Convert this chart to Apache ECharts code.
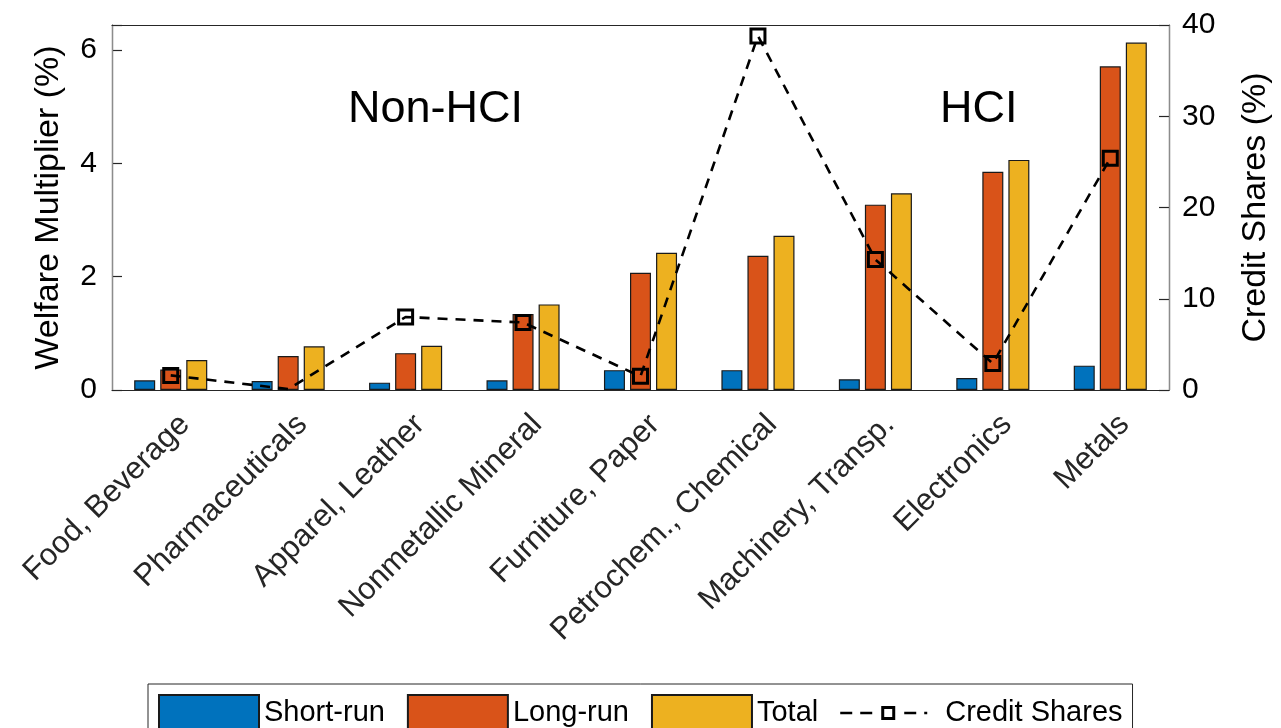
<!DOCTYPE html>
<html>
<head>
<meta charset="utf-8">
<script src="https://cdn.jsdelivr.net/npm/echarts@6/dist/echarts.min.js"></script>
<style>
  html, body { margin: 0; padding: 0; background: #fff; }
  #chart { width: 1281px; height: 728px; }
</style>
</head>
<body>
<div id="chart"></div>
<script>
  /*** data ***/
  var sectors = ['Food, Beverage', 'Pharmaceuticals', 'Apparel, Leather', 'Nonmetallic Mineral',
    'Furniture, Paper', 'Petrochem., Chemical', 'Machinery, Transp.', 'Electronics', 'Metals'];
  var shortRun = [0.17, 0.16, 0.13, 0.17, 0.35, 0.35, 0.19, 0.21, 0.43];
  var longRun = [0.36, 0.60, 0.65, 1.34, 2.07, 2.37, 3.27, 3.85, 5.71];
  var total = [0.53, 0.77, 0.78, 1.51, 2.42, 2.72, 3.47, 4.06, 6.13];
  var creditShares = [1.6, 0.1, 8.0, 7.4, 1.5, 38.8, 14.3, 2.9, 25.4];
  var leftTicks = [0, 2, 4, 6];

  var FONT = 'Liberation Sans';
  var AXIS_COLOR = '#262626';

  // legend icon for the dashed line with square marker: "- -□ - ·"
  var creditIcon = 'path://M0,0L0,0Z M100,36L100,36Z' +
    'M0,16.7h12v2.6h-12Z M20,16.7h12v2.6h-12Z' +
    'M41,11h14v14h-14Z M44,14v8h8v-8Z' +
    'M64,16.7h12v2.6h-12Z M84,16.7h3v2.6h-3Z';

  var myChart = echarts.init(document.getElementById('chart'));

  // bar series share the same style
  function barSeries(name, values, color) {
    return {
      name: name,
      type: 'bar',
      xAxisIndex: 0,
      yAxisIndex: 0,
      barWidth: 21,
      barGap: '24%',
      data: values,
      itemStyle: {
        color: color,
        borderColor: '#1a1a1a',
        borderWidth: 1.2
      }
    };
  }

  var option = {
    animation: false,
    backgroundColor: '#fff',
    textStyle: { fontFamily: FONT },
    grid: {
      left: 112,
      right: 99,
      top: 25,
      bottom: 338,
      containLabel: false
    },
    legend: {
      left: 148,
      top: 684,
      icon: 'rect',
      itemWidth: 100,
      itemHeight: 36,
      itemGap: 22,
      padding: [10, 10, 10, 10],
      borderColor: AXIS_COLOR,
      borderWidth: 1,
      backgroundColor: '#fff',
      textStyle: { fontSize: 29, color: '#000', fontFamily: FONT },
      data: ['Short-run', 'Long-run', 'Total', {
        name: 'Credit Shares',
        icon: creditIcon,
        itemStyle: { color: '#000', borderWidth: 0 }
      }]
    },
    xAxis: [{
      type: 'category',
      position: 'bottom',
      data: sectors,
      z: 10,
      axisLine: { onZero: false, lineStyle: { color: AXIS_COLOR, width: 1.2 } },
      axisTick: {
        inside: true,
        length: 10,
        alignWithLabel: true,
        lineStyle: { color: '#555', width: 1.2 }
      },
      axisLabel: {
        interval: 0,
        rotate: 45,
        margin: 44,
        padding: [0, -20, 0, 0],
        fontSize: 31,
        color: AXIS_COLOR,
        fontFamily: FONT
      },
      splitLine: {
        show: true,
        interval: function (index) { return index === 5; },
        lineStyle: { color: '#8c8c8c', width: 1.2 }
      }
    }, {
      type: 'category',
      position: 'top',
      data: sectors,
      z: 10,
      axisLine: { onZero: false, lineStyle: { color: AXIS_COLOR, width: 1.2 } },
      axisTick: {
        inside: true,
        length: 10,
        alignWithLabel: true,
        lineStyle: { color: AXIS_COLOR, width: 1.2 }
      },
      axisLabel: { show: false },
      splitLine: { show: false }
    }],
    yAxis: [{
      type: 'value',
      position: 'left',
      min: 0,
      max: 6.44,
      interval: 2,
      name: 'Welfare Multiplier (%)',
      nameLocation: 'middle',
      nameGap: 46,
      nameTextStyle: { fontSize: 34, color: '#000', fontFamily: FONT },
      axisLine: { show: true, lineStyle: { color: AXIS_COLOR, width: 1.2 } },
      axisTick: { show: true, inside: true, length: 10, lineStyle: { color: AXIS_COLOR, width: 1.2 } },
      axisLabel: {
        margin: 15,
        fontSize: 30,
        color: '#000',
        fontFamily: FONT,
        formatter: function (v) { return leftTicks.indexOf(v) >= 0 ? String(v) : ''; }
      },
      splitLine: { show: false }
    }, {
      type: 'value',
      position: 'right',
      min: 0,
      max: 40,
      interval: 10,
      name: 'Credit Shares (%)',
      nameLocation: 'middle',
      nameGap: 70,
      nameTextStyle: { fontSize: 34, color: '#000', fontFamily: FONT },
      axisLine: { show: true, lineStyle: { color: AXIS_COLOR, width: 1.2 } },
      axisTick: { show: true, inside: true, length: 10, lineStyle: { color: AXIS_COLOR, width: 1.2 } },
      axisLabel: { margin: 13, fontSize: 30, color: '#000', fontFamily: FONT },
      splitLine: { show: false }
    }],
    graphic: [{
      type: 'text',
      left: 348,
      top: 87,
      style: { text: 'Non-HCI', font: '45px "Liberation Sans"', fill: '#000' }
    }, {
      type: 'text',
      left: 940,
      top: 87,
      style: { text: 'HCI', font: '45px "Liberation Sans"', fill: '#000' }
    }],
    series: [
      barSeries('Short-run', shortRun, '#0072BD'),
      barSeries('Long-run', longRun, '#D95319'),
      barSeries('Total', total, '#EDB120'),
      {
        name: 'Credit Shares',
        type: 'line',
        xAxisIndex: 0,
        yAxisIndex: 1,
        z: 10,
        symbol: 'rect',
        symbolSize: 14,
        // pharmaceuticals point sits on the axis, no marker drawn there
        data: creditShares.map(function (v, i) {
          return i === 1 ? { value: v, symbol: 'none' } : v;
        }),
        lineStyle: { color: '#000', width: 2.6, type: [10, 8] },
        itemStyle: { color: 'rgba(0,0,0,0)', borderColor: '#000', borderWidth: 3 }
      }
    ]
  };
  myChart.setOption(option);
</script>
</body>
</html>
